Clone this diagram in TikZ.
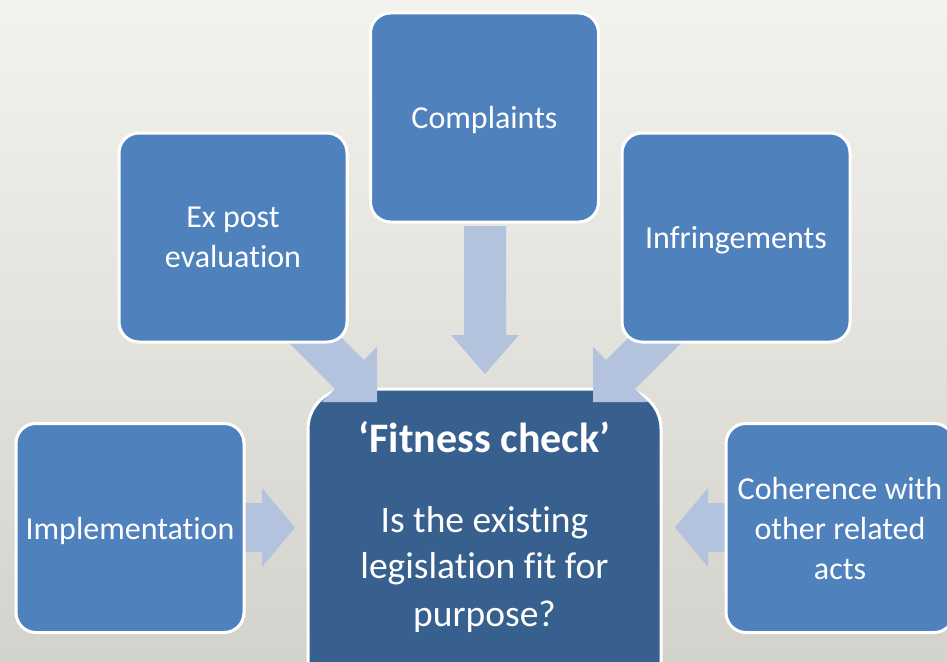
\documentclass[tikz,border=0pt]{standalone}
\usepackage{fontspec}
\setmainfont{Carlito}[Ligatures={NoCommon,NoContextual,NoRequired},Contextuals=NoAlternate]
\usetikzlibrary{calc}
\definecolor{bgtop}{HTML}{F3F3EE}
\definecolor{bgbot}{HTML}{D3D2CC}
\definecolor{boxblue}{HTML}{4F81BD}
\definecolor{darkblue}{HTML}{37608F}
\definecolor{arrowblue}{HTML}{B3C3DE}
\tikzset{
  outerbox/.style={draw=white, line width=3pt, fill=boxblue, rounded corners=20pt,
    minimum width=228pt, minimum height=209pt, inner sep=0pt, text=white,
    text depth=0pt, align=center, font=\fontsize{32}{40}\selectfont},
  centerbox/.style={draw=white, line width=3pt, fill=darkblue, rounded corners=40pt,
    minimum width=353pt, minimum height=330pt, inner sep=0pt},
  titletext/.style={text=white, inner sep=0pt, anchor=base, font=\fontsize{42}{50}\bfseries\selectfont},
  qtext/.style={text=white, inner sep=0pt, anchor=base, font=\fontsize{37.5}{47}\selectfont},
  blockarrow/.style={fill=arrowblue, draw=none}
}
% #1 tail, #2 tip, #3 shaft half width, #4 head half width, #5 head length
\newcommand{\myblockarrow}[5]{%
  \coordinate (hb) at ($(#2)!#5!(#1)$);
  \fill[blockarrow] ($(#1)!#3!90:(#2)$) -- ($(hb)!#3!90:(#2)$) -- ($(hb)!#4!90:(#2)$)
    -- (#2) -- ($(hb)!#4!-90:(#2)$) -- ($(hb)!#3!-90:(#2)$) -- ($(#1)!#3!-90:(#2)$) -- cycle;
}
\begin{document}
\begin{tikzpicture}[x=1pt, y=-1pt]
\useasboundingbox (0,0) rectangle (947,661);
\clip (0,0) rectangle (947,661);
\shade[top color=bgtop, bottom color=bgbot] (0,0) rectangle (947,661);

% central box
\node[centerbox] (fit) at (484.5,554) {};

% arrow end points
\coordinate (aLt) at (240,527.5);  \coordinate (aLh) at (295,527.5);
\coordinate (aRt) at (732,527.5);  \coordinate (aRh) at (675,527.5);
\coordinate (aDt) at (485,226);    \coordinate (aDh) at (485,374);
\coordinate (aEt) at (300,325);    \coordinate (aEh) at (377,402);
\coordinate (aIt) at (670,325);    \coordinate (aIh) at (593,402);

\myblockarrow{aLt}{aLh}{24.5pt}{39.5pt}{33pt}
\myblockarrow{aRt}{aRh}{24.5pt}{39.5pt}{33pt}
\myblockarrow{aDt}{aDh}{21pt}{34pt}{39pt}
\myblockarrow{aEt}{aEh}{20.5pt}{39pt}{39pt}
\myblockarrow{aIt}{aIh}{20.5pt}{39pt}{39pt}

% outer boxes
\node[outerbox] (compl) at (484.5,117.5) {Complaints};
\node[outerbox] (expost) at (233,237.5) {Ex post\\evaluation};
\node[outerbox] (infr) at (736,237.5) {Infringements};
\node[outerbox] (impl) at (130,528) {Implementation};
\node[outerbox] (coh) at (840,528) {Coherence with\\other related\\acts};

% central texts
\node[titletext] (title) at (484.5,452) {‘Fitness check’};
\node[qtext] (q1) at (484.5,532) {Is the existing};
\node[qtext] (q2) at (484.5,578.5) {legislation fit for};
\node[qtext] (q3) at (484.5,626) {purpose?};
\end{tikzpicture}
\end{document}
